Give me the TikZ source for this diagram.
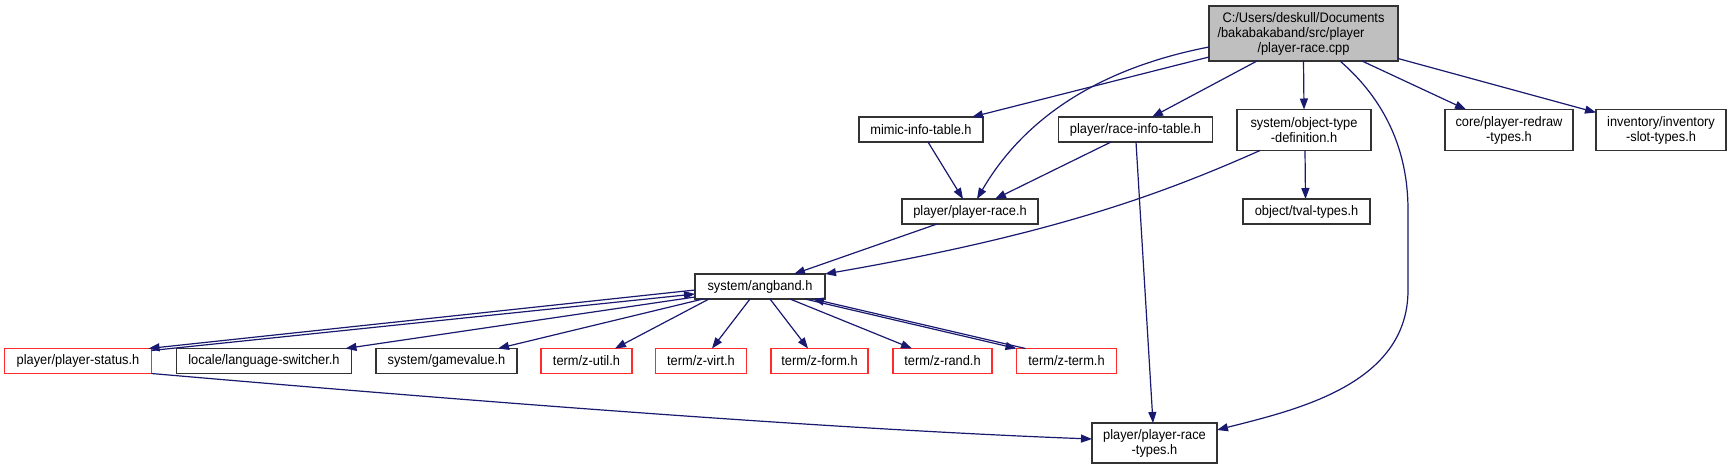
\documentclass[tikz,border=0pt]{standalone}
\usepackage{fontspec}
\setmainfont{Liberation Sans}[FakeStretch=0.93]
\usetikzlibrary{arrows.meta,calc}
\definecolor{edgec}{HTML}{191970}
\definecolor{rootfill}{HTML}{BFBFBF}
\definecolor{boxline}{HTML}{333333}
\definecolor{redline}{HTML}{FF2A2A}
\begin{document}
\begin{tikzpicture}[x=1pt,y=-1pt,
  filebox/.style={draw=boxline, line width=1.4pt, fill=white, inner sep=0pt, outer sep=0pt,
    align=center, font=\fontsize{13.8}{15}\selectfont, minimum height=25pt},
  redbox/.style={filebox, draw=redline},
  tallbox/.style={filebox, minimum height=41pt},
  rootbox/.style={filebox, fill=rootfill, minimum height=55pt},
  dep/.style={draw=edgec, line width=1.2pt, -{Triangle[length=11pt,width=8pt]}}]
\fill[white] (0,0) rectangle (1731,469);
\useasboundingbox (0,0) rectangle (1731,469);

% nodes
\node[rootbox, minimum width=189pt] (root) at (1303.5,33.5)
  {C:/Users/deskull/Documents\\/bakabakaband/src/player\rule{25pt}{0pt}\\/player-race.cpp};
\node[filebox, minimum width=124pt] (mimic) at (921,129.5) {mimic-info-table.h};
\node[filebox, minimum width=154pt] (raceinfo) at (1135.5,129.5) {player/race-info-table.h};
\node[tallbox, minimum width=134pt] (objdef) at (1304,130) {system/object-type\\-definition.h};
\node[tallbox, minimum width=128pt] (core) at (1509,130) {core/player-redraw\\-types.h};
\node[tallbox, minimum width=130pt] (inv) at (1661,130) {inventory/inventory\\-slot-types.h};
\node[filebox, minimum width=136pt] (prace) at (970,211.5) {player/player-race.h};
\node[filebox, minimum width=127pt] (tval) at (1306.5,211.5) {object/tval-types.h};
\node[filebox, minimum width=130pt] (angband) at (760,286.5) {system/angband.h};
\node[redbox, minimum width=147pt] (pstatus) at (78,361) {player/player-status.h};
\node[filebox, minimum width=175pt] (lang) at (264,361) {locale/language-switcher.h};
\node[filebox, minimum width=141pt] (gamevalue) at (446.5,361) {system/gamevalue.h};
\node[redbox, minimum width=91pt] (zutil) at (586.5,361) {term/z-util.h};
\node[redbox, minimum width=91pt] (zvirt) at (701,361) {term/z-virt.h};
\node[redbox, minimum width=97pt] (zform) at (819.5,361) {term/z-form.h};
\node[redbox, minimum width=99pt] (zrand) at (942.5,361) {term/z-rand.h};
\node[redbox, minimum width=100pt] (zterm) at (1066.5,361) {term/z-term.h};
\node[tallbox, minimum width=125pt, minimum height=40pt] (rtypes) at (1154.5,443) {player/player-race\\-types.h};

% edges
\draw[dep] ($(root.south west)+(0,-4)$) -- ($(mimic.north east)+(-11,0)$);
\draw[dep] ($(root.south west)+(0,-14)$) .. controls (1090,70) and (1020,125) .. ($(prace.north)+(7,0)$);
\draw[dep] ($(root.south west)+(48,0)$) -- ($(raceinfo.north)+(16.5,0)$);
\draw[dep] (root.south) -- (objdef.north);
\draw[dep] ($(root.south)+(36.5,0)$) .. controls (1385,100) and (1408,150) .. (1408,210)
  -- (1408,290) .. controls (1408,385) and (1295,410) .. ($(rtypes.east)+(0,-13)$);
\draw[dep] ($(root.south)+(58.5,0)$) -- ($(core.north west)+(21,0)$);
\draw[dep] ($(root.east)+(0,25)$) -- ($(inv.north west)+(0,3)$);
\draw[dep] ($(mimic.south)+(7,0)$) -- ($(prace.north)+(-7,0)$);
\draw[dep] ($(raceinfo.south)+(-24.5,0)$) -- ($(prace.north)+(25,0)$);
\draw[dep] ($(raceinfo.south)+(0.5,0)$) -- ($(rtypes.north)+(-1.5,0)$);
\draw[dep] ($(objdef.south west)+(23,0)$) .. controls (1160,195) and (1050,235) .. (angband.north east);
\draw[dep] ($(objdef.south)+(1,0)$) -- ($(tval.north)+(-1,0)$);
\draw[dep] ($(prace.south west)+(35,0)$) -- ($(angband.north east)+(-31,0)$);
\draw[dep] ($(angband.west)+(0,3.5)$) -- ($(pstatus.north east)+(-3,0)$);
\draw[dep] ($(pstatus.north east)+(0,2)$) -- ($(angband.west)+(0,7.5)$);
\draw[dep] ($(angband.south west)+(0,-2)$) -- ($(lang.north east)+(-6,0)$);
\draw[dep] ($(angband.south west)+(8,0)$) -- ($(gamevalue.north east)+(-19,0)$);
\draw[dep] ($(angband.south west)+(14,0)$) -- ($(zutil.north east)+(-17,0)$);
\draw[dep] ($(angband.south)+(-10,0)$) -- ($(zvirt.north)+(11,0)$);
\draw[dep] ($(angband.south)+(10,0)$) -- ($(zform.north west)+(37,0)$);
\draw[dep] ($(angband.south)+(30,0)$) -- ($(zrand.north west)+(19,0)$);
\draw[dep] ($(angband.south east)+(-20,0)$) -- (zterm.north west);
\draw[dep] ($(zterm.north west)+(9,0)$) -- ($(angband.south east)+(-12,0)$);
\draw[dep] (pstatus.south east) .. controls (400,395) and (800,428) .. ($(rtypes.west)+(0,-4)$);
\end{tikzpicture}
\end{document}
